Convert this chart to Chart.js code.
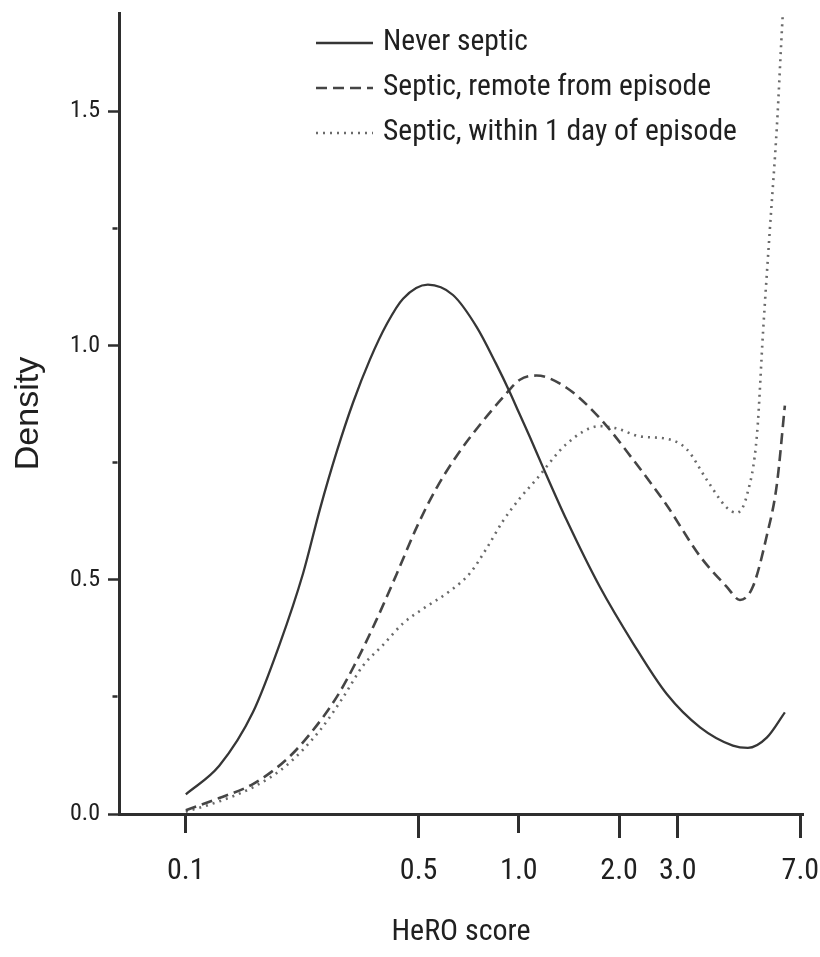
<!DOCTYPE html>
<html>
<head>
<meta charset="utf-8">
<script src="https://cdn.jsdelivr.net/npm/chart.js@4/dist/chart.umd.min.js"></script>
<style>
  html, body { margin: 0; padding: 0; background: #ffffff; }
  #wrap { width: 820px; height: 957px; }
</style>
</head>
<body>
<div id="wrap"><canvas id="c" width="820" height="957"></canvas></div>
<script>
// ---- Data ----
const seriesNames = ['Never septic', 'Septic, remote from episode', 'Septic, within 1 day of episode'];

const neverX = [0.1, 0.126, 0.159, 0.191, 0.225, 0.253, 0.284, 0.318, 0.357, 0.402, 0.449, 0.533, 0.634, 0.748, 0.853, 0.94, 1.0, 1.079, 1.18, 1.39, 1.75, 2.20, 2.78, 3.50, 4.39, 4.87, 5.55, 6.29];
const neverY = [0.042, 0.103, 0.217, 0.361, 0.514, 0.652, 0.774, 0.879, 0.970, 1.047, 1.100, 1.130, 1.108, 1.039, 0.962, 0.900, 0.857, 0.805, 0.741, 0.628, 0.485, 0.365, 0.256, 0.185, 0.146, 0.141, 0.163, 0.217];

const remoteX = [0.1, 0.126, 0.159, 0.201, 0.236, 0.284, 0.327, 0.375, 0.430, 0.494, 0.567, 0.651, 0.764, 0.895, 1.007, 1.13, 1.39, 1.75, 2.20, 2.78, 3.50, 4.21, 4.61, 5.04, 5.55, 5.95, 6.29];
const remoteY = [0.008, 0.034, 0.064, 0.117, 0.171, 0.250, 0.329, 0.417, 0.513, 0.613, 0.697, 0.765, 0.831, 0.889, 0.927, 0.936, 0.910, 0.845, 0.757, 0.659, 0.550, 0.485, 0.457, 0.485, 0.594, 0.703, 0.872];

const withinX = [0.1, 0.126, 0.159, 0.2, 0.253, 0.296, 0.340, 0.391, 0.449, 0.515, 0.621, 0.713, 0.80, 0.895, 1.007, 1.13, 1.39, 1.75, 1.97, 2.31, 2.78, 3.19, 3.67, 4.21, 4.51, 4.84, 5.19, 5.41, 5.67, 5.95, 6.2, 6.4];
const withinY = [0.005, 0.027, 0.057, 0.103, 0.179, 0.248, 0.316, 0.361, 0.407, 0.438, 0.476, 0.514, 0.567, 0.625, 0.674, 0.715, 0.790, 0.828, 0.823, 0.806, 0.801, 0.779, 0.713, 0.654, 0.643, 0.681, 0.812, 1.030, 1.248, 1.466, 1.707, 1.85];

const xTickValues = [0.1, 0.5, 1, 2, 3, 7];
const xTickLabels = ['0.1', '0.5', '1.0', '2.0', '3.0', '7.0'];
const yTickValues = [0, 0.25, 0.5, 0.75, 1.0, 1.25, 1.5];
const yTickLabels = ['0.0', '', '0.5', '', '1.0', '', '1.5'];

const xTitle = 'HeRO score';
const yTitle = 'Density';

// ---- Chart ----
const COND = 'Roboto, sans-serif';          // used with the "condensed" stretch keyword
const SANS = "'Liberation Sans', Arial, sans-serif";
const TEXT = '#202020';

function pts(xs, ys) { return xs.map((x, i) => ({ x: x, y: ys[i] })); }

const styles = [
  { color: '#363636', width: 2.3, dash: [] },
  { color: '#454545', width: 2.6, dash: [11, 6] },
  { color: '#6a6a6a', width: 2.6, dash: [2, 5] }
];

// legend drawn inside the plot area, stacked vertically
const legendPlugin = {
  id: 'innerLegend',
  afterDraw(chart) {
    const ctx = chart.ctx;
    chart.data.datasets.forEach((ds, i) => {
      const y = 43 + i * 45;
      ctx.save();
      ctx.beginPath();
      ctx.setLineDash(ds.borderDash || []);
      ctx.lineWidth = ds.borderWidth;
      ctx.strokeStyle = ds.borderColor;
      ctx.lineCap = 'butt';
      ctx.moveTo(316, y);
      ctx.lineTo(373, y);
      ctx.stroke();
      ctx.restore();
      ctx.save();
      ctx.fillStyle = TEXT;
      ctx.font = 'condensed 29.5px ' + COND;
      ctx.textBaseline = 'middle';
      ctx.textAlign = 'left';
      ctx.fillText(ds.label, 383, y);
      ctx.restore();
    });
  }
};

const datasets = [
  { label: seriesNames[0], data: pts(neverX, neverY) },
  { label: seriesNames[1], data: pts(remoteX, remoteY) },
  { label: seriesNames[2], data: pts(withinX, withinY) }
].map((d, i) => Object.assign(d, {
  borderColor: styles[i].color,
  borderWidth: styles[i].width,
  borderDash: styles[i].dash,
  pointRadius: 0,
  fill: false,
  cubicInterpolationMode: 'monotone'
}));

new Chart(document.getElementById('c'), {
  type: 'line',
  data: { datasets: datasets },
  plugins: [legendPlugin],
  options: {
    responsive: false,
    animation: false,
    devicePixelRatio: 1,
    layout: { padding: { top: 13, right: 17, bottom: 0, left: 0 } },
    plugins: { legend: { display: false }, tooltip: { enabled: false } },
    scales: {
      x: {
        type: 'logarithmic',
        min: 0.063,
        max: 7.13,
        afterFit(scale) { scale.height = 143; scale.paddingLeft = 0; scale.paddingRight = 0; },
        afterBuildTicks(scale) { scale.ticks = xTickValues.map(v => ({ value: v })); },
        border: { display: true, color: '#2e2e2e', width: 3 },
        grid: {
          display: true,
          drawOnChartArea: false,
          drawTicks: true,
          tickLength: 24,
          tickWidth: 3,
          tickColor: '#2e2e2e',
          tickBorderDash: (c) => {
            const v = c.tick ? c.tick.value : null;
            return (v === 0.1 || v === 1) ? [17, 100] : [];
          }
        },
        ticks: {
          autoSkip: false,
          maxRotation: 0,
          padding: 15,
          color: TEXT,
          font: { family: COND, weight: 'condensed', size: 30, lineHeight: 1.2 },
          callback: (value) => {
            const k = xTickValues.findIndex(v => Math.abs(v - value) < 1e-9);
            return k >= 0 ? xTickLabels[k] : '';
          }
        },
        title: {
          display: true,
          text: xTitle,
          color: TEXT,
          font: { family: COND, weight: 'condensed', size: 30, lineHeight: 1.2 },
          padding: { top: 0, bottom: 7 }
        }
      },
      y: {
        type: 'linear',
        min: 0,
        max: 1.71,
        afterFit(scale) { scale.width = 119; scale.paddingTop = 0; scale.paddingBottom = 0; },
        afterBuildTicks(scale) { scale.ticks = yTickValues.map(v => ({ value: v })); },
        border: { display: true, color: '#2e2e2e', width: 3 },
        grid: {
          display: true,
          drawOnChartArea: false,
          drawTicks: true,
          tickLength: 11,
          tickWidth: 2.5,
          tickColor: '#2e2e2e',
          tickBorderDash: (c) => {
            const k = c.index;
            return (k % 2 === 1) ? [0, 4.5, 5, 100] : [];
          }
        },
        ticks: {
          autoSkip: false,
          padding: 8,
          color: TEXT,
          font: { family: COND, weight: 'condensed', size: 24 },
          callback: (value, index) => yTickLabels[index]
        },
        title: {
          display: true,
          text: yTitle,
          color: TEXT,
          font: { family: SANS, size: 34, lineHeight: 1.2 },
          padding: { top: 8, bottom: 0 }
        }
      }
    }
  }
});
</script>
</body>
</html>
